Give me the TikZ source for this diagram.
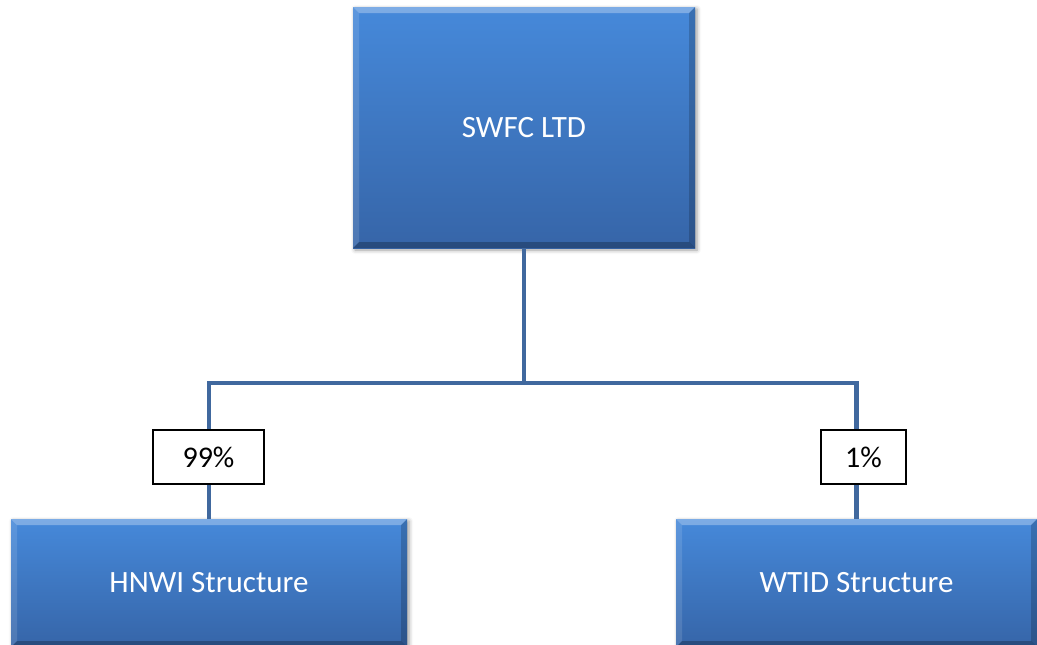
\documentclass[tikz,border=0pt]{standalone}
\usepackage{fontspec}
\setmainfont{Carlito}
\usetikzlibrary{calc,shadows.blur}

\definecolor{boxtop}{RGB}{70,137,218}
\definecolor{boxbot}{RGB}{54,101,168}
\definecolor{linkcol}{RGB}{64,104,158}

\tikzset{
  orgbox/.style={
    rectangle, inner sep=0pt, text=white,
    font=\fontsize{31}{37}\selectfont,
    top color=boxtop, bottom color=boxbot,
    blur shadow={shadow xshift=2pt, shadow yshift=-2pt,
                 shadow blur radius=4pt, shadow opacity=40},
    path picture={
      \coordinate (nw) at (path picture bounding box.north west);
      \coordinate (ne) at (path picture bounding box.north east);
      \coordinate (sw) at (path picture bounding box.south west);
      \coordinate (se) at (path picture bounding box.south east);
      \fill[white, opacity=0.30] (nw) -- (ne) -- ($(ne)+(-6pt,-6pt)$) -- ($(nw)+(6pt,-6pt)$) -- cycle;
      \fill[white, opacity=0.12] (nw) -- ($(nw)+(6pt,-6pt)$) -- ($(sw)+(6pt,6pt)$) -- (sw) -- cycle;
      \fill[black, opacity=0.18] (ne) -- ($(ne)+(-6pt,-6pt)$) -- ($(se)+(-6pt,6pt)$) -- (se) -- cycle;
      \fill[black, opacity=0.25] (sw) -- ($(sw)+(6pt,6pt)$) -- ($(se)+(-6pt,6pt)$) -- (se) -- cycle;
    }
  },
  link/.style={draw=linkcol, line width=4.5pt},
  share/.style={rectangle, draw=black, line width=1.3pt, fill=white,
    inner sep=0pt, minimum height=54pt, text=black,
    font=\fontsize{30}{36}\selectfont}
}

\begin{document}
\begin{tikzpicture}[x=1pt, y=-1pt]
  \useasboundingbox (0,0) rectangle (1037,645);
  \clip (0,0) rectangle (1037,645);

  % ownership links
  \coordinate (hub) at (524,383);
  \node[orgbox, minimum width=342pt, minimum height=241pt] (swfc) at (524,127.5) {SWFC LTD};
  \node[orgbox, minimum width=396pt, minimum height=128pt] (hnwi) at (209,583) {HNWI Structure};
  \node[orgbox, minimum width=361pt, minimum height=128pt] (wtid) at (856.5,583) {WTID Structure};

  \draw[link] (swfc.south) -- (hub);
  \draw[link] (hub) -| (hnwi.north);
  \draw[link] (hub) -| (wtid.north);

  \node[share, minimum width=111pt] (p99) at (208.5,457) {99\%};
  \node[share, minimum width=85pt] (p1) at (863.5,457) {1\%};
\end{tikzpicture}
\end{document}
